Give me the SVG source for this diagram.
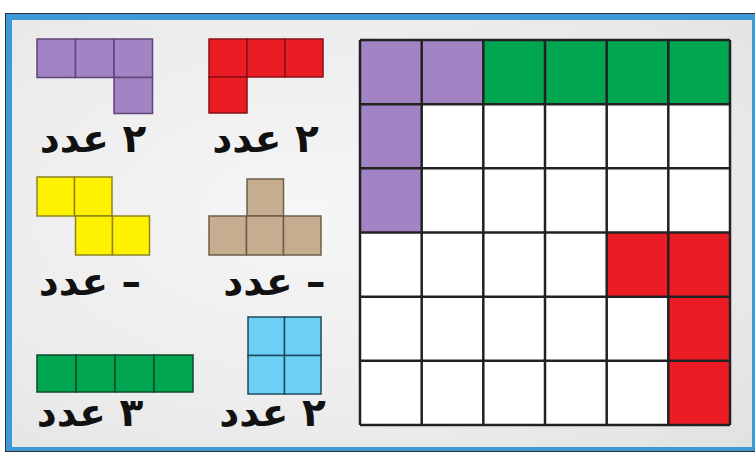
<svg xmlns="http://www.w3.org/2000/svg" width="755" height="454" viewBox="0 0 755 454">
<defs>
<radialGradient id="paper" cx="0.4" cy="0.45" r="0.8">
<stop offset="0" stop-color="#f6f6f6"/>
<stop offset="0.6" stop-color="#ececec"/>
<stop offset="1" stop-color="#e2e2e2"/>
</radialGradient>
<style>
.lbl{font-family:"DejaVu Sans","Noto Sans",sans-serif;font-weight:bold;font-size:39px;fill:#111;text-anchor:middle;direction:rtl;unicode-bidi:embed}
.pu{fill:#a283c4;stroke:#5e4677;stroke-width:1.5}
.rd{fill:#ec1c24;stroke:#8a1015;stroke-width:1.5}
.ye{fill:#fff200;stroke:#8d8420;stroke-width:1.5}
.tn{fill:#c6ad8f;stroke:#6d5d4c;stroke-width:1.5}
.gr{fill:#00a650;stroke:#0b4a2a;stroke-width:1.5}
.bl{fill:#6ccff5;stroke:#1f4a5e;stroke-width:1.5}
.gc{stroke:#222;stroke-width:2.5}
.wh{fill:#ffffff}
</style>
</defs>
<rect x="0" y="0" width="755" height="454" fill="#ffffff"/>
<rect x="5" y="13" width="755" height="439" fill="#2f2f2f"/>
<rect x="6" y="14" width="753" height="437" fill="#3c9ad8"/>
<rect x="12" y="20" width="740" height="427" fill="url(#paper)"/>

<g id="piece-purple">
<rect class="pu" x="37" y="39" width="38.5" height="38.5"/>
<rect class="pu" x="75.5" y="39" width="38.5" height="38.5"/>
<rect class="pu" x="114" y="39" width="38.5" height="38.5"/>
<rect class="pu" x="114" y="77.5" width="38.5" height="36"/>
</g>
<g id="label-purple"><text class="lbl" x="93" y="152">۲ عدد</text></g>

<g id="piece-red">
<rect class="rd" x="209" y="39" width="38" height="38"/>
<rect class="rd" x="247" y="39" width="38" height="38"/>
<rect class="rd" x="285" y="39" width="38" height="38"/>
<rect class="rd" x="209" y="77" width="38" height="36"/>
</g>
<g id="label-red"><text class="lbl" x="265.5" y="152">۲ عدد</text></g>

<g id="piece-yellow">
<rect class="ye" x="37" y="177" width="37.5" height="39"/>
<rect class="ye" x="74.5" y="177" width="37.5" height="39"/>
<rect class="ye" x="75.5" y="216" width="37" height="39"/>
<rect class="ye" x="112.5" y="216" width="37" height="39"/>
</g>
<g id="label-yellow"><text class="lbl" x="90" y="295">– عدد</text></g>

<g id="piece-tan">
<rect class="tn" x="247" y="179" width="36.5" height="37"/>
<rect class="tn" x="209" y="216" width="37.5" height="39"/>
<rect class="tn" x="246.5" y="216" width="37" height="39"/>
<rect class="tn" x="283.5" y="216" width="37.5" height="39"/>
</g>
<g id="label-tan"><text class="lbl" x="274.5" y="295">– عدد</text></g>

<g id="piece-green">
<rect class="gr" x="37" y="355" width="39" height="37"/>
<rect class="gr" x="76" y="355" width="39" height="37"/>
<rect class="gr" x="115" y="355" width="39" height="37"/>
<rect class="gr" x="154" y="355" width="39" height="37"/>
</g>
<g id="label-green"><text class="lbl" x="90" y="426">۳ عدد</text></g>

<g id="piece-blue">
<rect class="bl" x="248" y="317" width="36.5" height="38.5"/>
<rect class="bl" x="284.5" y="317" width="36.5" height="38.5"/>
<rect class="bl" x="248" y="355.5" width="36.5" height="38.5"/>
<rect class="bl" x="284.5" y="355.5" width="36.5" height="38.5"/>
</g>
<g id="label-blue"><text class="lbl" x="272.5" y="426">۲ عدد</text></g>

<g id="board">
<rect class="wh" x="360" y="40" width="370" height="385"/>
<rect x="360" y="40" width="123.3" height="64.2" fill="#a283c4"/>
<rect x="360" y="104.2" width="61.7" height="128.3" fill="#a283c4"/>
<rect x="483.3" y="40" width="246.7" height="64.2" fill="#00a650"/>
<rect x="606.7" y="232.5" width="123.3" height="64.2" fill="#ec1c24"/>
<rect x="668.3" y="296.7" width="61.7" height="128.3" fill="#ec1c24"/>
<g class="gc">
<line x1="360" y1="40" x2="360" y2="425"/>
<line x1="421.7" y1="40" x2="421.7" y2="425"/>
<line x1="483.3" y1="40" x2="483.3" y2="425"/>
<line x1="545" y1="40" x2="545" y2="425"/>
<line x1="606.7" y1="40" x2="606.7" y2="425"/>
<line x1="668.3" y1="40" x2="668.3" y2="425"/>
<line x1="730" y1="40" x2="730" y2="425"/>
<line x1="360" y1="40" x2="730" y2="40"/>
<line x1="360" y1="104.2" x2="730" y2="104.2"/>
<line x1="360" y1="168.3" x2="730" y2="168.3"/>
<line x1="360" y1="232.5" x2="730" y2="232.5"/>
<line x1="360" y1="296.7" x2="730" y2="296.7"/>
<line x1="360" y1="360.8" x2="730" y2="360.8"/>
<line x1="360" y1="425" x2="730" y2="425"/>
</g>
</g>
</svg>
